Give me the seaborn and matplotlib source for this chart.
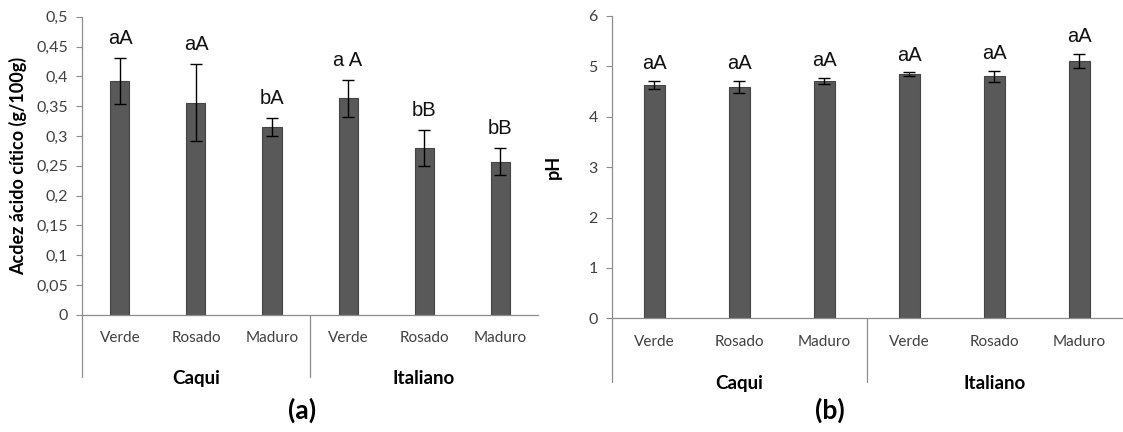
import numpy as np
import pandas as pd
import matplotlib
matplotlib.use("Agg")
import matplotlib.pyplot as plt
import seaborn as sns

# dados
grupos = ["Caqui", "Caqui", "Caqui", "Italiano", "Italiano", "Italiano"]
estadios = ["Verde", "Rosado", "Maduro", "Verde", "Rosado", "Maduro"]

acidez = [0.392, 0.356, 0.315, 0.363, 0.280, 0.257]
acidez_err = [0.039, 0.065, 0.015, 0.031, 0.030, 0.022]
acidez_letras = ["aA", "aA", "bA", "a A", "bB", "bB"]

ph = [4.63, 4.59, 4.71, 4.84, 4.80, 5.11]
ph_err = [0.08, 0.12, 0.055, 0.04, 0.11, 0.14]
ph_letras = ["aA", "aA", "aA", "aA", "aA", "aA"]

acidez_ticks = [0, 0.05, 0.1, 0.15, 0.2, 0.25, 0.3, 0.35, 0.4, 0.45, 0.5]
acidez_ticklabels = ["0", "0,05", "0,1", "0,15", "0,2", "0,25", "0,3", "0,35", "0,4", "0,45", "0,5"]
ph_ticks = [0, 1, 2, 3, 4, 5, 6]
ph_ticklabels = ["0", "1", "2", "3", "4", "5", "6"]

sns.set_style("white")
plt.rcParams["font.family"] = ["Lato", "DejaVu Sans"]

df = pd.DataFrame({"grupo": grupos, "estadio": estadios,
                   "acidez": acidez, "ph": ph})
df["chave"] = df["grupo"] + " " + df["estadio"]

fig = plt.figure(figsize=(11.23, 4.32), dpi=100)
ax1 = fig.add_axes([0.0730, 0.2715, 0.4061, 0.6898])
ax2 = fig.add_axes([0.5447, 0.2632, 0.4542, 0.6998])

bar_cor = "#595959"
eixo_cor = "#8c8c8c"
texto_cor = "#404040"


def painel(ax, col, err, letras, ticks, ticklabels, ylabel, ymax, off, ylab_x, divbaixo):
    sns.barplot(data=df, x="chave", y=col, order=list(df["chave"]), ax=ax,
                color=bar_cor, width=0.25, errorbar=None, saturation=1,
                edgecolor="#454545", linewidth=0.8)
    pos = np.arange(len(df))
    ax.errorbar(pos, df[col], yerr=err, fmt="none", ecolor="black",
                elinewidth=1, capsize=4, capthick=1)
    for i, (v, e, t) in enumerate(zip(df[col], err, letras)):
        ax.annotate(t, xy=(i, v + e), xytext=(0, off), textcoords="offset points",
                    ha="center", va="center", fontsize=14.5,
                    family=["Liberation Sans", "DejaVu Sans"], color="#111111")
    ax.set_xlim(-0.5, 5.5)
    ax.set_ylim(0, ymax)
    ax.set_yticks(ticks)
    ax.set_yticklabels(ticklabels)
    ax.set_xticks(pos)
    ax.set_xticklabels(df["estadio"])
    ax.tick_params(axis="x", length=0, pad=12, labelsize=11, labelcolor=texto_cor)
    ax.tick_params(axis="y", length=4, width=0.8, color=eixo_cor, pad=6,
                   labelsize=11.5, labelcolor=texto_cor, left=True)
    ax.set_xlabel("")
    ax.set_ylabel(ylabel, fontsize=13, fontweight="bold", color="black")
    ax.yaxis.set_label_coords(ylab_x, 0.5)
    for s in ["top", "right"]:
        ax.spines[s].set_visible(False)
    for s in ["left", "bottom"]:
        ax.spines[s].set_color(eixo_cor)
        ax.spines[s].set_linewidth(0.9)
    tr = ax.get_xaxis_transform()
    for xd in [-0.5, 2.5]:
        ax.plot([xd, xd], [0, divbaixo], transform=tr, color=eixo_cor,
                lw=0.9, clip_on=False)
    for xg, nome in [(1, "Caqui"), (4, "Italiano")]:
        ax.text(xg, divbaixo - 0.005, nome, transform=tr, ha="center", va="center",
                fontsize=13.5, fontweight="bold", color="black")


painel(ax1, "acidez", acidez_err, acidez_letras, acidez_ticks, acidez_ticklabels,
       "Acdez ácido cítico (g/100g)", 0.5, 14, -0.120, -0.209)
painel(ax2, "ph", ph_err, ph_letras, ph_ticks, ph_ticklabels,
       "pH", 6, 12.5, -0.098, -0.21)

fig.text(302 / 1123, 1 - 410 / 432, "(a)", ha="center", va="center",
         fontsize=19, fontweight="bold", color="black")
fig.text(830 / 1123, 1 - 410 / 432, "(b)", ha="center", va="center",
         fontsize=19, fontweight="bold", color="black")

fig.savefig("out.png", dpi=100)
